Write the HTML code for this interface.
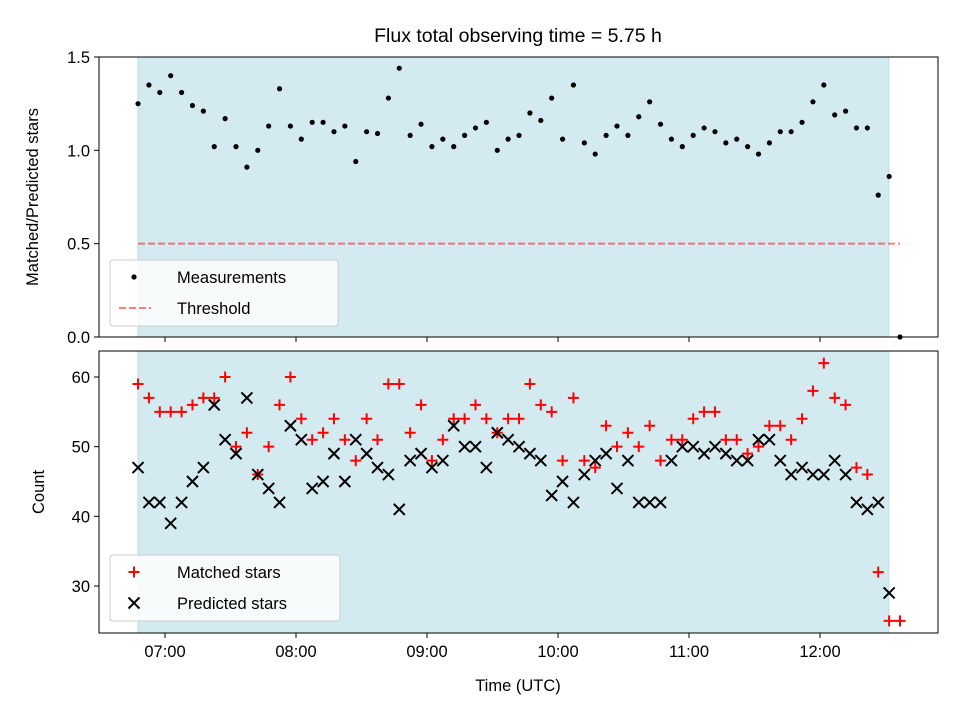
<!DOCTYPE html>
<html><head><meta charset="utf-8"><style>
body{margin:0;background:#fff;}
svg text{font-family:"Liberation Sans","DejaVu Sans",sans-serif;fill:#000;}
</style></head><body>
<svg id="chart" width="960" height="720" xmlns="http://www.w3.org/2000/svg">
<text x="518" y="42" font-size="19.5" text-anchor="middle">Flux total observing time = 5.75 h</text>
<g id="top"></g>
<g id="bot"></g>
<text x="518" y="691" font-size="16.5" text-anchor="middle">Time (UTC)</text>
<text transform="translate(38,197) rotate(-90)" font-size="16.5" text-anchor="middle">Matched/Predicted stars</text>
<text transform="translate(44,492) rotate(-90)" font-size="16.5" text-anchor="middle">Count</text>
</svg>
<script>
const startHour = 6.794;
const stepHour = 0.0831;
const ratio = [1.25,1.35,1.31,1.40,1.31,1.24,1.21,1.02,1.17,1.02,0.91,1.00,1.13,1.33,1.13,1.06,1.15,1.15,1.10,1.13,0.94,1.10,1.09,1.28,1.44,1.08,1.14,1.02,1.06,1.02,1.08,1.12,1.15,1.00,1.06,1.08,1.20,1.16,1.28,1.06,1.35,1.04,0.98,1.08,1.13,1.08,1.18,1.26,1.14,1.06,1.02,1.08,1.12,1.10,1.04,1.06,1.02,0.98,1.04,1.10,1.10,1.15,1.26,1.35,1.19,1.21,1.12,1.12,0.76,0.86,0.0];
const matched = [59,57,55,55,55,56,57,57,60,50,52,46,50,56,60,54,51,52,54,51,48,54,51,59,59,52,56,48,51,54,54,56,54,52,54,54,59,56,55,48,57,48,47,53,50,52,50,53,48,51,51,54,55,55,51,51,49,50,53,53,51,54,58,62,57,56,47,46,32,25,25];
const predicted = [47,42,42,39,42,45,47,56,51,49,57,46,44,42,53,51,44,45,49,45,51,49,47,46,41,48,49,47,48,53,50,50,47,52,51,50,49,48,43,45,42,46,48,49,44,48,42,42,42,48,50,50,49,50,49,48,48,51,51,48,46,47,46,46,48,46,42,41,42,29,null];
const threshold = 0.5;
const xTickHours = [7,8,9,10,11,12];
const xTickLabels = ["07:00","08:00","09:00","10:00","11:00","12:00"];
const topTicks = [0.0,0.5,1.0,1.5];
const botTicks = [30,40,50,60];
const shadeStart = 6.794, shadeEnd = 12.526;

const NS="http://www.w3.org/2000/svg";
const L=99,R=938;
const xs=h=>L+(h-6.496)/(12.901-6.496)*(R-L);
const T={top:57,bot:337,y:v=>337-v/1.5*280};
const B={top:351,bot:633,y:v=>377+(60-v)*6.967};
function mk(tag,attrs,parent){const e=document.createElementNS(NS,tag);for(const k in attrs)e.setAttribute(k,attrs[k]);parent.appendChild(e);return e;}
const times=ratio.map((_,i)=>startHour+i*stepHour);

function frame(g,P,ticks,fmt,name){
  const s=mk('rect',{x:xs(shadeStart),y:P.top,width:xs(shadeEnd)-xs(shadeStart),height:P.bot-P.top,fill:'#d4eaf1',stroke:'#bddde8','stroke-width':1},g);
  
  
  ticks.forEach(t=>{const y=P.y(t);
    mk('line',{x1:L-5,x2:L,y1:y,y2:y,stroke:'#000','stroke-width':1},g);
    const tx=mk('text',{x:L-9,y:y+6,'font-size':16.5,'text-anchor':'end'},g);tx.textContent=fmt(t);
    
    
  });
  xTickHours.forEach((h,i)=>{const x=xs(h);
    mk('line',{x1:x,x2:x,y1:P.bot,y2:P.bot+5,stroke:'#000','stroke-width':1},g);
    if(name==='bottom'){const tx=mk('text',{x:x,y:P.bot+24,'font-size':16.5,'text-anchor':'middle'},g);tx.textContent=xTickLabels[i];
      
      }
  });
}
const gt=document.getElementById('top'), gb=document.getElementById('bot');
frame(gt,T,topTicks,t=>t.toFixed(1),'top');
frame(gb,B,botTicks,t=>String(t),'bottom');

const th=mk('line',{x1:xs(times[0]),x2:xs(times[times.length-1]),y1:T.y(threshold),y2:T.y(threshold),stroke:'rgba(255,0,0,0.5)','stroke-width':2,'stroke-dasharray':'7,3'},gt);


ratio.forEach((v,i)=>{const c=mk('circle',{cx:xs(times[i]),cy:T.y(v),r:2.6,fill:'#000'},gt);
  
  });

function plus(g,x,y){return mk('path',{d:`M${x-5.5},${y}H${x+5.5}M${x},${y-5.5}V${y+5.5}`,stroke:'#f00','stroke-width':2,fill:'none'},g);}
function cross(g,x,y){return mk('path',{d:`M${x-5.5},${y-5.5}L${x+5.5},${y+5.5}M${x-5.5},${y+5.5}L${x+5.5},${y-5.5}`,stroke:'#000','stroke-width':2,fill:'none'},g);}
const clipG=mk('g',{},gb);
matched.forEach((v,i)=>{if(v==null)return;const p=plus(clipG,xs(times[i]),B.y(v));
  
  });
predicted.forEach((v,i)=>{if(v==null)return;const p=cross(clipG,xs(times[i]),B.y(v));
  
  });

[[gt,T],[gb,B]].forEach(([g,P])=>{mk('rect',{x:L,y:P.top,width:R-L,height:P.bot-P.top,fill:'none',stroke:'#000','stroke-width':1},g);});

function legend(g,x,y,w,items,name){
  const lg=mk('g',{},g);
  
  
  mk('rect',{x:x,y:y,width:w,height:66,rx:3,fill:'rgba(255,255,255,0.8)',stroke:'#ccc'},lg);
  items.forEach((it,i)=>{const cy=y+17+i*31;
    it.draw(lg,x+24,cy);
    const t=mk('text',{x:x+67,y:cy+6,'font-size':16.5},lg);t.textContent=it.label;
    
    });
}
legend(gt,110,260,228,[
  {label:'Measurements',draw:(g,x,y)=>mk('circle',{cx:x,cy:y,r:2.6,fill:'#000'},g)},
  {label:'Threshold',draw:(g,x,y)=>mk('line',{x1:x-15,x2:x+17,y1:y,y2:y,stroke:'rgba(255,0,0,0.5)','stroke-width':2,'stroke-dasharray':'7,3'},g)}
],'top-legend');
legend(gb,110,555,230,[
  {label:'Matched stars',draw:(g,x,y)=>plus(g,x,y)},
  {label:'Predicted stars',draw:(g,x,y)=>cross(g,x,y)}
],'bottom-legend');
</script>
</body></html>
